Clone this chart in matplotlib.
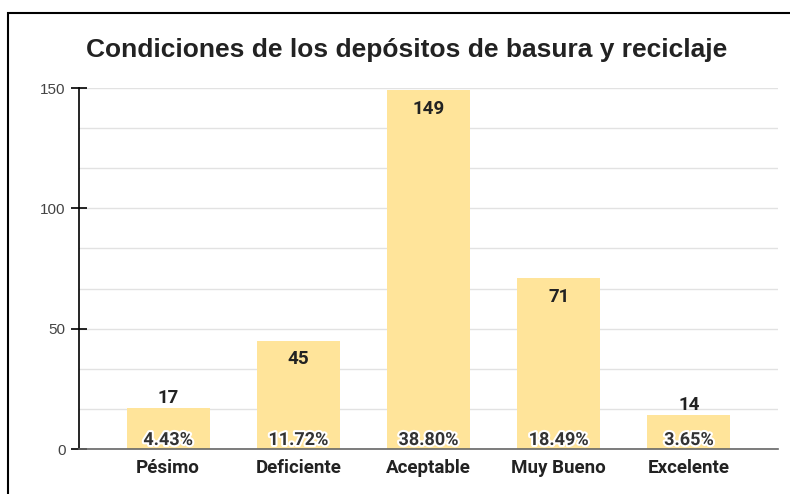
import matplotlib.pyplot as plt
import matplotlib.patheffects as pe
from matplotlib.patches import Rectangle
import numpy as np

# datos
categorias = ['Pésimo', 'Deficiente', 'Aceptable', 'Muy Bueno', 'Excelente']
valores = [17, 45, 149, 71, 14]
porcentajes = ['4.43%', '11.72%', '38.80%', '18.49%', '3.65%']

W, H = 790, 494
fig = plt.figure(figsize=(W / 100, H / 100), dpi=100)
ax = fig.add_axes([79 / W, 1 - 449 / H, (778 - 79) / W, (449 - 88) / H])

x = np.arange(len(categorias))
ax.bar(x, valores, width=0.64, color='#FFE49A', zorder=2)

ax.set_xlim(-0.685, len(categorias) - 1 + 0.685)
ax.set_ylim(0, 150)

# rejilla
ax.set_yticks([0, 50, 100, 150])
ax.set_yticks(np.arange(0, 151, 50 / 3), minor=True)
ax.grid(axis='y', which='both', color='#e2e2e2', linewidth=1, zorder=0)
ax.tick_params(axis='y', which='minor', length=0)
ax.tick_params(axis='y', which='major', direction='inout', length=11, width=1.2,
               color='black', labelsize=11, labelcolor='#444444', pad=4)
ax.set_yticklabels([str(v) for v in [0, 50, 100, 150]], family='Liberation Sans')

ax.set_xticks(x)
ax.set_xticklabels(categorias, fontsize=13.5, fontweight='bold', family='Roboto',
                   color='#222222')
ax.tick_params(axis='x', length=0, pad=7)

for s in ['top', 'right']:
    ax.spines[s].set_visible(False)
ax.spines['left'].set_color('black')
ax.spines['left'].set_linewidth(1.2)
ax.spines['bottom'].set_color('#666666')
ax.spines['bottom'].set_linewidth(1.2)
ax.spines['bottom'].set_zorder(3)

# etiquetas de valor
for xi, v in zip(x, valores):
    if v > 30:
        ax.annotate(str(v), (xi, v), xytext=(0, -7), textcoords='offset points',
                    ha='center', va='top', fontsize=13.5, fontweight='bold',
                    family='Roboto', color='#222222', zorder=4)
    else:
        ax.annotate(str(v), (xi, v), xytext=(0, 1), textcoords='offset points',
                    ha='center', va='bottom', fontsize=13.5, fontweight='bold',
                    family='Roboto', color='#222222', zorder=4)

# porcentajes
for xi, p in zip(x, porcentajes):
    t = ax.annotate(p, (xi, 0), xytext=(0, 0), textcoords='offset points',
                    ha='center', va='bottom', fontsize=13, fontweight='bold',
                    family='Roboto', color='#333333', zorder=5)
    t.set_path_effects([pe.withStroke(linewidth=3, foreground='white')])

fig.text(407 / W, 1 - 50 / H, 'Condiciones de los depósitos de basura y reciclaje',
         ha='center', va='center', fontsize=19, fontweight='bold',
         family='Liberation Sans', color='#222222')

# marco
fig.patches.append(Rectangle((8 / W, -0.1), 1.2, 1.1 - 13 / H, transform=fig.transFigure,
                             fill=False, edgecolor='black', linewidth=1.5))

fig.savefig('out.png', dpi=100)
